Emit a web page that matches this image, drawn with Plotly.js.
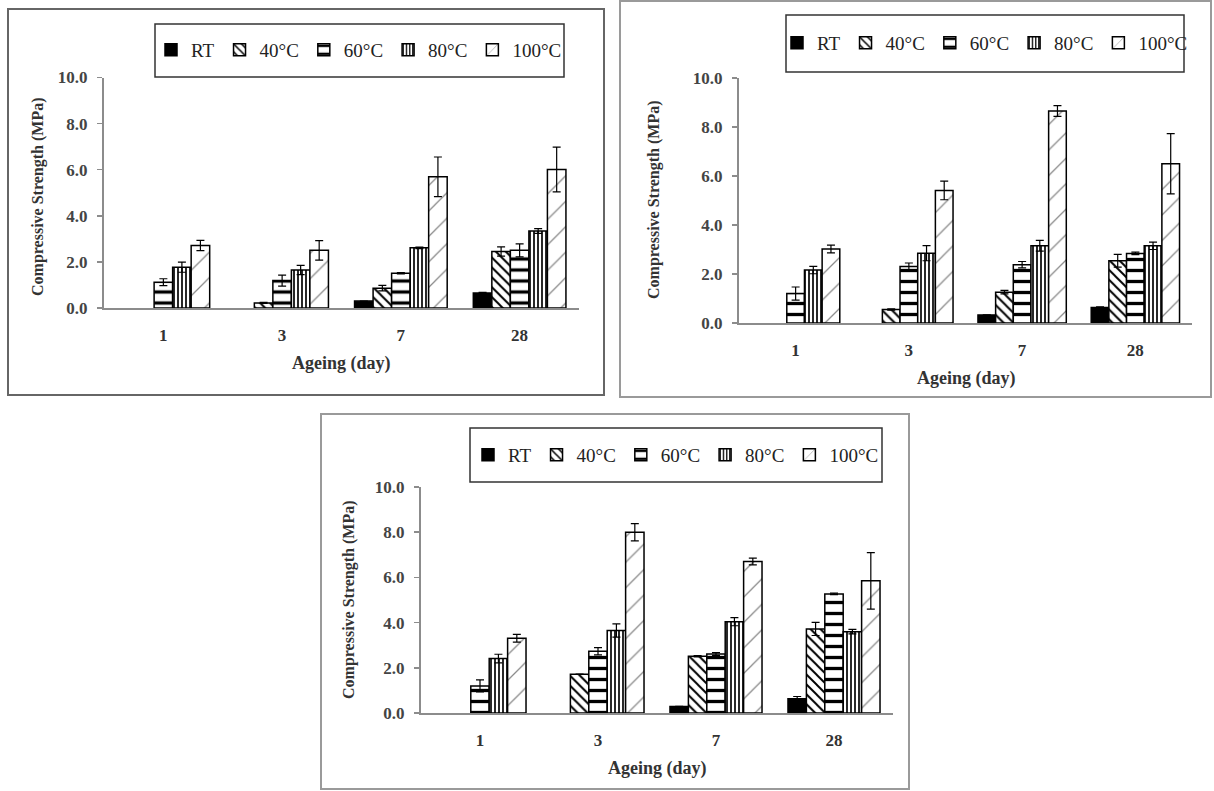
<!DOCTYPE html>
<html>
<head>
<meta charset="utf-8">
<script src="https://cdn.plot.ly/plotly-3.0.1.min.js"></script>
<style>html,body{margin:0;padding:0;background:#fff;}#chart{width:1214px;height:791px;}</style>
</head>
<body>
<div id="chart"></div>
<script>
// ---- data (null = no bar drawn) ----
const categories = ["1", "3", "7", "28"];
const seriesNames = ["RT", "40°C", "60°C", "80°C", "100°C"];
const yTitle = "Compressive Strength (MPa)";
const xTitle = "Ageing (day)";

// Panel A (top left)
const aRT   = [null, null, 0.30, 0.65]; const aRTerr  = [0, 0, 0, 0.03];
const a40   = [null, 0.22, 0.86, 2.45]; const a40err  = [0, 0.02, 0.12, 0.20];
const a60   = [1.12, 1.19, 1.51, 2.50]; const a60err = [0.15, 0.24, 0.03, 0.28];
const a80   = [1.77, 1.65, 2.61, 3.34]; const a80err = [0.22, 0.20, 0.03, 0.10];
const a100  = [2.71, 2.50, 5.69, 6.01]; const a100err = [0.22, 0.42, 0.86, 0.97];

// Panel B (top right)
const bRT   = [null, null, 0.33, 0.63]; const bRTerr  = [0, 0, 0, 0.03];
const b40   = [null, 0.55, 1.26, 2.54]; const b40err  = [0, 0.03, 0.07, 0.26];
const b60   = [1.20, 2.31, 2.38, 2.84]; const b60err = [0.27, 0.14, 0.13, 0.05];
const b80   = [2.16, 2.85, 3.15, 3.15]; const b80err = [0.15, 0.31, 0.22, 0.15];
const b100  = [3.02, 5.41, 8.65, 6.50]; const b100err = [0.16, 0.38, 0.22, 1.23];

// Panel C (bottom)
const cRT   = [null, null, 0.29, 0.63]; const cRTerr  = [0, 0, 0, 0.10];
const c40   = [null, 1.72, 2.51, 3.72]; const c40err  = [0, 0, 0.03, 0.29];
const c60   = [1.20, 2.73, 2.61, 5.27]; const c60err = [0.27, 0.16, 0.06, 0.03];
const c80   = [2.41, 3.65, 4.04, 3.60]; const c80err = [0.19, 0.29, 0.18, 0.10];
const c100  = [3.31, 8.00, 6.70, 5.85]; const c100err = [0.17, 0.38, 0.15, 1.25];

// ---- styles ----
const W = 1214, H = 791;
const px = v => v / W;
const py = v => 1 - v / H;

const styles = [
  {color: "#000000", pattern: {shape: ""}},
  {color: "#ffffff", pattern: {shape: "\\", fgcolor: "#000", bgcolor: "#fff", size: 7, solidity: 0.28, fillmode: "replace"}},
  {color: "#ffffff", pattern: {shape: "-", fgcolor: "#000", bgcolor: "#fff", size: 11, solidity: 0.3, fillmode: "replace"}},
  {color: "#ffffff", pattern: {shape: "|", fgcolor: "#000", bgcolor: "#fff", size: 4, solidity: 0.42, fillmode: "replace"}},
  {color: "#ffffff", pattern: {shape: "/", fgcolor: "#8a8a8a", bgcolor: "#fff", size: 18, solidity: 0.07, fillmode: "replace"}}
];

const panels = [
  {vals: [aRT, a40, a60, a80, a100], errs: [aRTerr, a40err, a60err, a80err, a100err], xa: "x", ya: "y", lg: "legend"},
  {vals: [bRT, b40, b60, b80, b100], errs: [bRTerr, b40err, b60err, b80err, b100err], xa: "x2", ya: "y2", lg: "legend2"},
  {vals: [cRT, c40, c60, c80, c100], errs: [cRTerr, c40err, c60err, c80err, c100err], xa: "x3", ya: "y3", lg: "legend3"}
];

const traces = [];
panels.forEach(p => {
  seriesNames.forEach((name, i) => {
    traces.push({
      type: "bar",
      name: name,
      x: categories,
      y: p.vals[i],
      xaxis: p.xa,
      yaxis: p.ya,
      legend: p.lg,
      marker: {color: styles[i].color, pattern: styles[i].pattern, line: {color: "#000", width: 1.5}},
      error_y: {type: "data", array: p.errs[i], visible: true, color: "#000", thickness: 1.2, width: 4}
    });
  });
});

const serif = "Liberation Serif, Times New Roman, serif";
function xAxis(dom, anchor) {
  return {domain: dom, anchor: anchor, type: "category", showline: true, linecolor: "#8c8c8c", linewidth: 2,
    ticks: "", showgrid: false, zeroline: false, fixedrange: true,
    tickfont: {family: serif, size: 17, color: "#333", weight: "bold"}, ticklabelstandoff: 11};
}
function yAxis(dom, anchor) {
  return {domain: dom, anchor: anchor, range: [0, 10], dtick: 2, tickformat: ".1f", showline: true,
    linecolor: "#8c8c8c", linewidth: 2, ticks: "outside", ticklen: 5, tickcolor: "#8c8c8c", tickwidth: 1.5,
    showgrid: false, zeroline: false, fixedrange: true, ticklabelstandoff: 6,
    tickfont: {family: serif, size: 17, color: "#444", weight: "bold"}};
}

const legendBase = (xc, yc) => ({orientation: "h", x: px(xc), y: py(yc), xanchor: "center", yanchor: "middle",
  bgcolor: "rgba(0,0,0,0)", borderwidth: 0, traceorder: "normal", itemwidth: 30,
  font: {family: serif, size: 19, color: "#222"}, tracegroupgap: 0});

function frame(x0, y0, x1, y1, color, w) {
  return {type: "rect", xref: "paper", yref: "paper", x0: px(x0), x1: px(x1), y0: py(y0), y1: py(y1),
    line: {color: color, width: w}, fillcolor: "rgba(0,0,0,0)", layer: "below"};
}
function ann(text, x, y, size, angle) {
  return {text: text, xref: "paper", yref: "paper", x: px(x), y: py(y), xanchor: "center", yanchor: "middle",
    showarrow: false, textangle: angle || 0, font: {family: serif, size: size, color: "#333", weight: "bold"}};
}

const layout = {
  width: W, height: H,
  margin: {l: 0, r: 0, t: 0, b: 0},
  paper_bgcolor: "#fff", plot_bgcolor: "rgba(0,0,0,0)",
  barmode: "group", bargap: 0.22, bargroupgap: 0,
  showlegend: true,
  xaxis: xAxis([px(104), px(579)], "y"),
  yaxis: yAxis([py(308), py(77.5)], "x"),
  xaxis2: xAxis([px(739), px(1192)], "y2"),
  yaxis2: yAxis([py(323), py(78)], "x2"),
  xaxis3: xAxis([px(421), px(893)], "y3"),
  yaxis3: yAxis([py(713), py(487)], "x3"),
  legend: legendBase(359, 50),
  legend2: legendBase(985, 43),
  legend3: legendBase(676, 455),
  shapes: [
    frame(8, 9, 604, 395, "#666", 2),
    frame(620, 1, 1211, 397, "#9a9a9a", 2),
    frame(321, 414, 909, 789, "#9a9a9a", 2),
    frame(155, 24, 564, 77, "#333", 1.5),
    frame(786, 15, 1184, 72, "#333", 1.5),
    frame(470, 428, 882, 482, "#333", 1.5)
  ],
  annotations: [
    ann(xTitle, 341, 363, 18), ann(yTitle, 38, 197, 16, -90),
    ann(xTitle, 966, 378, 18), ann(yTitle, 654, 200, 16, -90),
    ann(xTitle, 658, 768, 18), ann(yTitle, 349, 600, 16, -90)
  ]
};

Plotly.newPlot("chart", traces, layout, {displayModeBar: false, staticPlot: true});
</script>
</body>
</html>
